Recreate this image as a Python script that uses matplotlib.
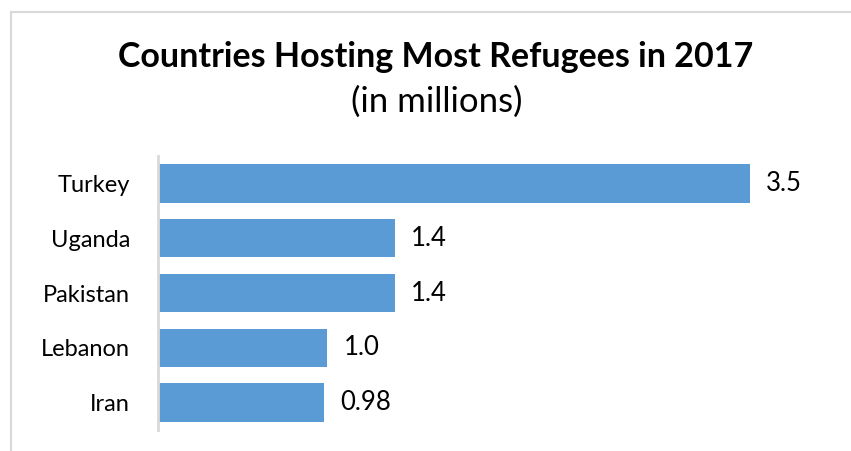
import matplotlib.pyplot as plt
from matplotlib.lines import Line2D

countries = ["Turkey", "Uganda", "Pakistan", "Lebanon", "Iran"]
refugees = [3.5, 1.4, 1.4, 1.0, 0.98]
value_labels = ["3.5", "1.4", "1.4", "1.0", "0.98"]

plt.rcParams["font.family"] = ["Lato", "DejaVu Sans"]

W, H = 851, 451
fig = plt.figure(figsize=(W / 100, H / 100), dpi=100)

# chart area border (light grey, only top and left visible)
fig.add_artist(Line2D([11 / W, 11 / W], [0, 1 - 12 / H], transform=fig.transFigure,
                      color="#D9D9D9", lw=1.5))
fig.add_artist(Line2D([11 / W, 1], [1 - 12 / H, 1 - 12 / H], transform=fig.transFigure,
                      color="#D9D9D9", lw=1.5))

# plot area: x=158..834 px (0..4), y=156..430 px
ax = fig.add_axes([158 / W, 1 - 430 / H, 676 / W, 274 / H])
ypos = list(range(len(countries)))
ax.barh(ypos, refugees, height=0.7, color="#5B9BD5")
ax.set_xlim(0, 4)
ax.set_ylim(len(countries) - 0.5, -0.5)
ax.set_yticks(ypos)
ax.set_yticklabels(countries, fontsize=17)
ax.tick_params(axis="y", length=0, pad=20)
ax.set_xticks([])
for s in ["top", "right", "bottom"]:
    ax.spines[s].set_visible(False)
ax.spines["left"].set_color("#D9D9D9")
ax.spines["left"].set_linewidth(2)

for y, v, lab in zip(ypos, refugees, value_labels):
    ax.annotate(lab, (v, y), xytext=(12, 0), textcoords="offset points",
                va="center", ha="left", fontsize=18.5)

fig.text(436 / W, 1 - 57 / H, "Countries Hosting Most Refugees in 2017",
         ha="center", va="center", fontsize=24.5, fontweight="bold")
fig.text(437 / W, 1 - 102 / H, "(in millions)", ha="center", va="center", fontsize=25)

fig.savefig("out.png", dpi=100)
